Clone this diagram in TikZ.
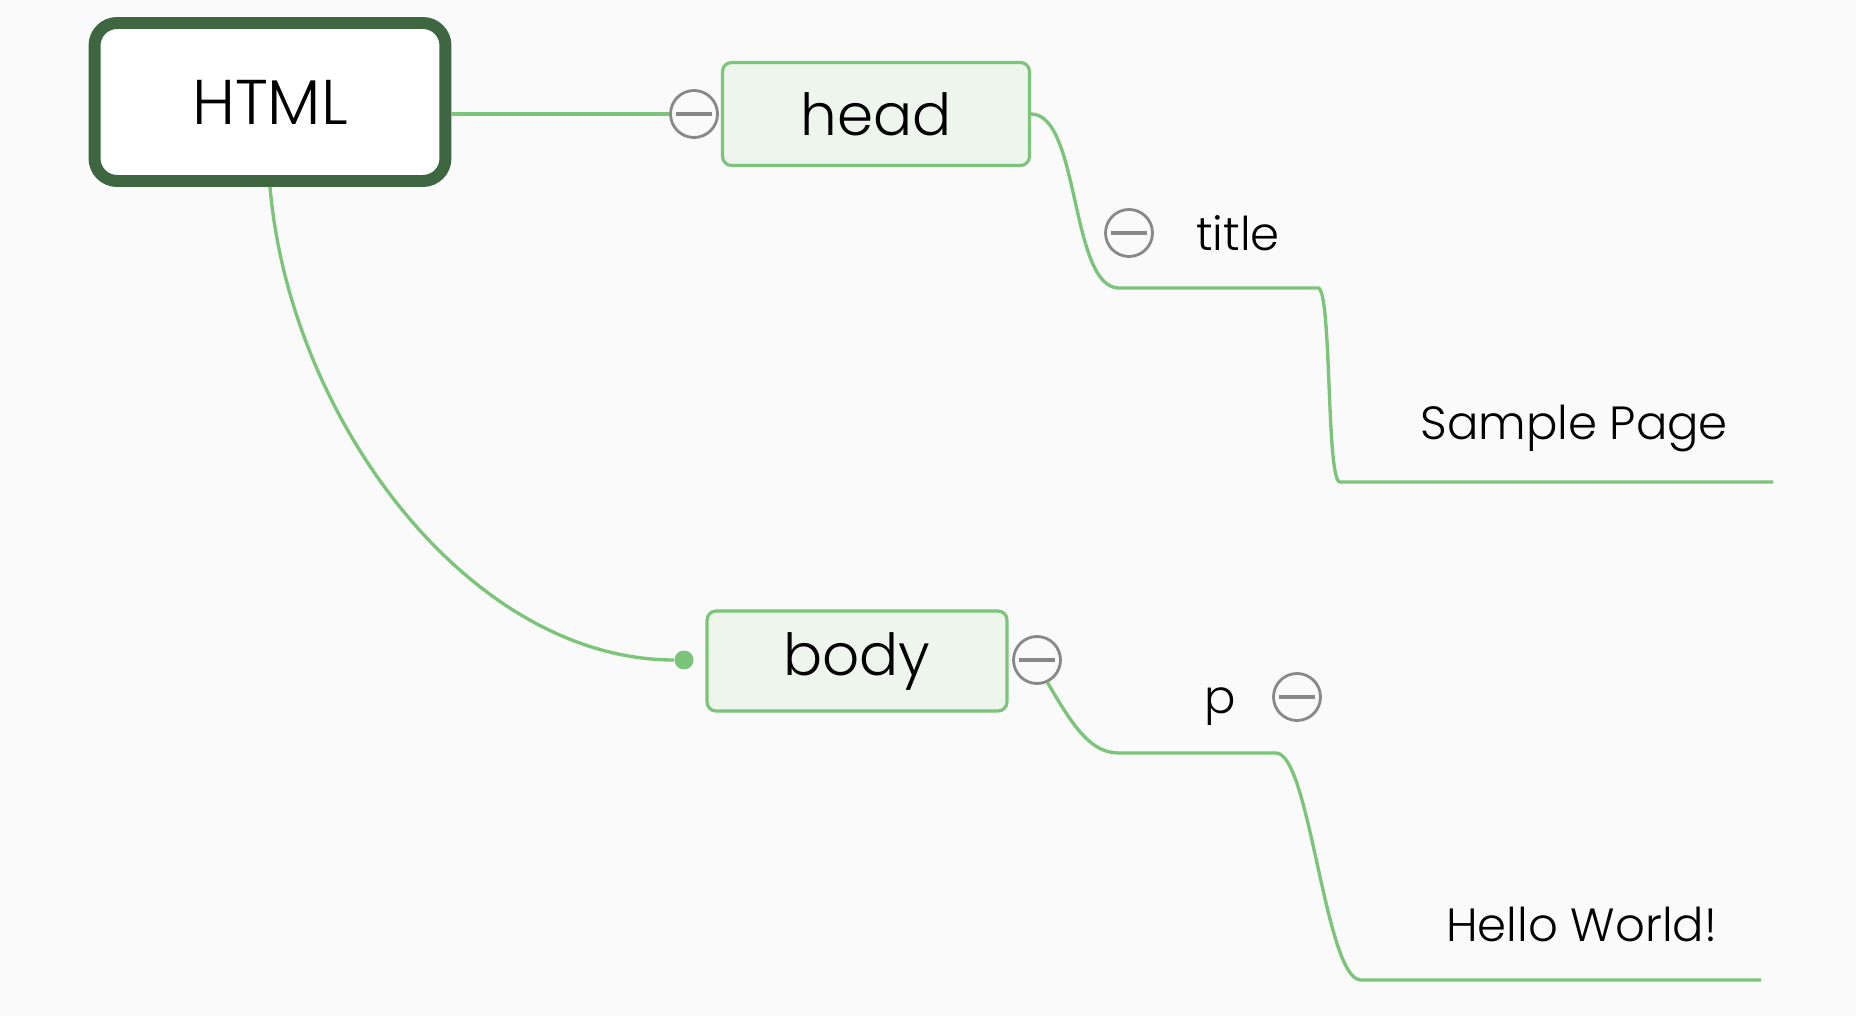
\documentclass[tikz,border=0pt]{standalone}
\usepackage{fontspec}
\setmainfont{Poppins Light}
\definecolor{bgcol}{HTML}{FAFAFA}
\definecolor{rootgreen}{HTML}{3D6641}
\definecolor{branchgreen}{HTML}{7CC47A}
\definecolor{boxfill}{HTML}{EEF5EC}
\definecolor{minusgray}{HTML}{888888}

\begin{document}
\begin{tikzpicture}[x=0.02cm, y=-0.02cm,
        root/.style={draw=rootgreen, line width=6.8pt, fill=white, rounded corners=0.45cm, minimum width=7.02cm, minimum height=3.16cm, font=\fontsize{36}{38}\selectfont},
        topic/.style={draw=branchgreen, line width=1.8pt, fill=boxfill, rounded corners=0.18cm, font=\fontsize{33}{35}\selectfont},
        leaf/.style={font=\fontsize{26.5}{28}\selectfont, inner sep=0pt},
        minus/.style={circle, draw=minusgray, line width=1.6pt, fill=bgcol, minimum size=0.94cm, inner sep=0pt,
            path picture={\draw[minusgray, line width=2.2pt] ([xshift=-0.36cm]path picture bounding box.center) -- ([xshift=0.36cm]path picture bounding box.center);}},
        branch/.style={draw=branchgreen, line width=1.9pt}]
        \fill[bgcol] (0,0) rectangle (1856,1016);
        \useasboundingbox (0,0) rectangle (1856,1016);

        \node(HTML) at (270,102)[root]{HTML};
        \node(head) at (876,114)[topic, minimum width=6.14cm, minimum height=2.06cm]{head};
        \node(body) at (857,661)[topic, minimum width=6cm, minimum height=2cm]{body};

        \node(headminus) at (694,114)[minus]{};
        \node(bodyminus) at (1037,660)[minus]{};
        \node(titleminus) at (1129,233)[minus]{};
        \node(pminus) at (1297,697)[minus]{};
        \node(bodydot) at (684,660)[circle, fill=branchgreen, minimum size=0.38cm, inner sep=0pt]{};

        \node(title) at (1196,251)[leaf, anchor=base west]{title};
        \node(sample) at (1420,440)[leaf, anchor=base west]{Sample Page};
        \node(p) at (1204,713)[leaf, anchor=base west]{p};
        \node(hello) at (1446,941)[leaf, anchor=base west]{Hello World!};

        \coordinate(titleL) at (1119,288);
        \coordinate(titleR) at (1318,288);
        \coordinate(sampleL) at (1340,482);
        \coordinate(sampleR) at (1773,482);
        \coordinate(pL) at (1119,753);
        \coordinate(pR) at (1276,753);
        \coordinate(helloL) at (1361,980);
        \coordinate(helloR) at (1761,980);

        \draw[branch] (HTML.east |- headminus) -- (headminus);
        \draw[branch] (HTML.south) .. controls (290,420) and (470,660) .. (bodydot);
        \draw[branch] (head.east) .. controls (1080,114) and (1070,288) .. (titleL) -- (titleR) .. controls (1332,288) and (1326,482) .. (sampleL) -- (sampleR);
        \draw[branch] (bodyminus.-65) .. controls (1075,730) and (1092,753) .. (pL) -- (pR) .. controls (1310,753) and (1325,980) .. (helloL) -- (helloR);

    \end{tikzpicture}
\end{document}
